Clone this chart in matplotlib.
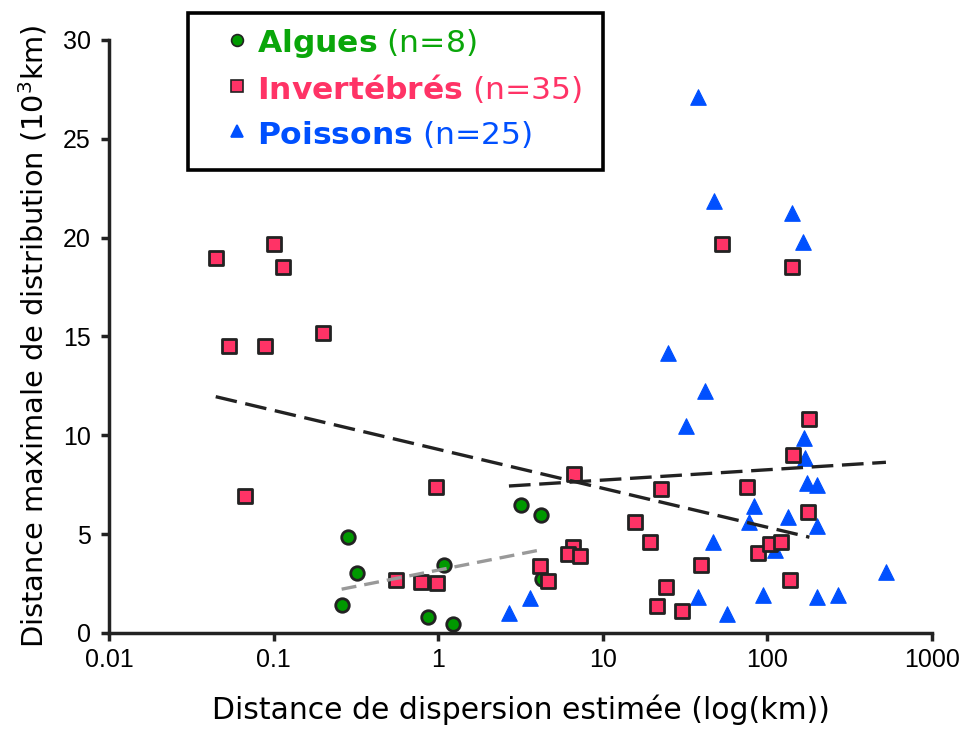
import numpy as np
import matplotlib
matplotlib.use("Agg")
import matplotlib.pyplot as plt
from matplotlib.lines import Line2D
from matplotlib.patches import Rectangle

# ── Data ───────────────────────────────────────────────
algae_x = [0.282, 0.323, 0.259, 1.084, 0.864, 1.23, 3.17, 4.19, 4.3]
algae_y = [4.86, 3.02, 1.42, 3.44, 0.79, 0.47, 6.46, 5.98, 2.72]

inv_x = [0.0445, 0.100, 0.1146, 0.0533, 0.0891, 0.1995, 0.0673, 0.975,
         0.552, 0.783, 0.984, 6.72, 22.7, 75.5, 180, 144, 176, 15.7,
         19.3, 6.62, 6.12, 7.26, 4.13, 4.62, 39.7, 24.1, 21.3, 30.4,
         87.9, 103, 121, 138, 53.2, 141.7]
inv_y = [18.95, 19.68, 18.51, 14.52, 14.52, 15.17, 6.95, 7.37,
         2.70, 2.56, 2.53, 8.06, 7.27, 7.38, 10.84, 8.99, 6.11, 5.61,
         4.62, 4.37, 3.98, 3.91, 3.37, 2.63, 3.44, 2.33, 1.38, 1.10,
         4.05, 4.49, 4.62, 2.68, 19.68, 18.51]

fish_x = [38.0, 47.4, 142, 165, 24.9, 42.0, 31.9, 167, 170, 175, 200,
          82.5, 76.9, 134, 200, 46.9, 111, 525, 3.61, 2.69, 38.0, 57.0,
          94.0, 199, 267]
fish_y = [27.13, 21.87, 21.26, 19.76, 14.15, 12.26, 10.45, 9.88, 8.84,
          7.57, 7.49, 6.42, 5.61, 5.85, 5.41, 4.59, 4.20, 3.10, 1.79,
          1.03, 1.81, 0.96, 1.92, 1.81, 1.92]

# trend lines: y = intercept + slope * log10(x)
algae_trend = (3.18, 1.645)
inv_trend = (9.29, -1.971)
fish_trend = (7.21, 0.524)

x_ticks = [0.01, 0.1, 1, 10, 100, 1000]
x_tick_labels = ["0.01", "0.1", "1", "10", "100", "1000"]
y_ticks = [0, 5, 10, 15, 20, 25, 30]

legend_labels = [r"$\bf{Algues}$ (n=8)", r"$\bf{Invertébrés}$ (n=35)",
                 r"$\bf{Poissons}$ (n=25)"]

GREEN = "#0aa60a"
PINK = "#ff3366"
BLUE = "#0050ff"
EDGE = "#222222"

W, H = 963, 731
fig = plt.figure(figsize=(W / 100, H / 100), dpi=100)
ax = fig.add_axes([0.1132, 0.1341, 0.8546, 0.8112])

ax.scatter(fish_x, fish_y, marker="^", s=125, c=BLUE, edgecolors=BLUE,
           linewidths=0.8, zorder=3)
ax.scatter(algae_x, algae_y, marker="o", s=95, c="#009900", edgecolors=EDGE,
           linewidths=2.0, zorder=4)
ax.scatter(inv_x, inv_y, marker="s", s=95, c=PINK, edgecolors=EDGE,
           linewidths=2.0, zorder=5)


def trend(xs, params, color, dashes):
    lx = np.log10([min(xs), max(xs)])
    ly = params[0] + params[1] * lx
    ax.plot(10 ** lx, ly, color=color, lw=2.4, dashes=dashes, zorder=6)


trend(algae_x, algae_trend, "#999999", (4.5, 2.4))
trend(inv_x, inv_trend, EDGE, (6.5, 2.6))
trend(fish_x, fish_trend, EDGE, (6.5, 2.6))

ax.set_xscale("log")
ax.set_xlim(0.01, 1000)
ax.set_ylim(0, 30)
ax.set_xticks(x_ticks)
ax.set_xticklabels(x_tick_labels)
ax.xaxis.set_minor_locator(matplotlib.ticker.NullLocator())
ax.set_yticks(y_ticks)
for t in ax.get_xticklabels() + ax.get_yticklabels():
    t.set_family("Liberation Sans")
    t.set_fontsize(18)

for s in ["top", "right"]:
    ax.spines[s].set_visible(False)
for s in ["left", "bottom"]:
    ax.spines[s].set_linewidth(2.5)
    ax.spines[s].set_color(EDGE)
ax.tick_params(width=2.5, length=6, color=EDGE)
ax.tick_params(axis="y", pad=7)
ax.tick_params(axis="x", pad=5)

ax.set_xlabel("Distance de dispersion estimée (log(km))", fontsize=21.5, labelpad=16)
ax.set_ylabel("Distance maximale de distribution (10$^3$km)", fontsize=20.8, labelpad=10)

# ── hand-made legend box (pixel layout of the reference) ──
def fx(px):
    return px / W


def fy(py):
    return 1 - py / H


fig.add_artist(Rectangle((fx(188), fy(170)), fx(603) - fx(188), fy(13) - fy(170),
                         transform=fig.transFigure, facecolor="white",
                         edgecolor="black", lw=2.6, zorder=10))
markers = [dict(marker="o", markerfacecolor="#009900", markeredgecolor=EDGE),
           dict(marker="s", markerfacecolor=PINK, markeredgecolor=EDGE),
           dict(marker="^", markerfacecolor=BLUE, markeredgecolor=BLUE)]
for i, (lab, col, mk) in enumerate(zip(legend_labels, [GREEN, PINK, BLUE], markers)):
    yy = fy(40 + i * 45.5)
    fig.add_artist(Line2D([fx(237)], [yy], transform=fig.transFigure, ls="none",
                          markersize=8.5, markeredgewidth=1.2, zorder=11, **mk))
    fig.text(fx(257), yy, lab, color=col, fontsize=22.6, va="center_baseline",
             ha="left", zorder=11)

fig.savefig("out.png", dpi=100)
